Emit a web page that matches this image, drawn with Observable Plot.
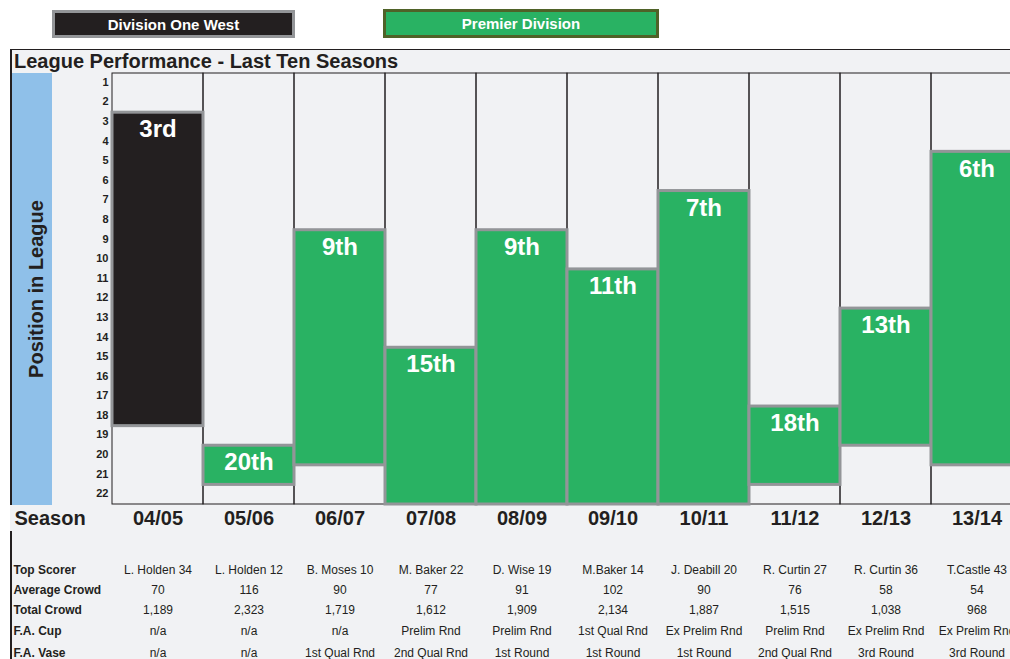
<!DOCTYPE html>
<html>
<head>
<meta charset="utf-8">
<script src="https://cdn.jsdelivr.net/npm/d3@7"></script>
<script src="https://cdn.jsdelivr.net/npm/@observablehq/plot@0.6"></script>
<style>
  html, body { margin: 0; padding: 0; }
  body { width: 1010px; height: 659px; overflow: hidden; position: relative; background: #ffffff;
         font-family: "Liberation Sans", Arial, Helvetica, sans-serif; color: #231f20; }
  .lg { position: absolute; box-sizing: border-box; color: #ffffff; font-weight: bold; font-size: 15px;
        display: flex; align-items: center; justify-content: center; }
  .lg0 { left: 52px; top: 10px; width: 243px; height: 28px; border: 3px solid #939598; }
  .lg1 { left: 383px; top: 9px; width: 276px; height: 29px; border: 3px solid #4f6228; }
  #panel { position: absolute; left: 10px; top: 49px; width: 1000px; height: 610px; background: #f1f2f4;
           border-top: 1.5px solid #231f20; }
  .vline { position: absolute; left: 10px; width: 1.5px; background: #231f20; }
  #title { position: absolute; left: 14px; top: 50px; height: 23px; line-height: 23px; font-weight: bold; font-size: 20px; }
  #blue { position: absolute; left: 12px; top: 73px; width: 40px; height: 432px; background: #8fc0e9; }
  #chart { position: absolute; left: 0; top: 0; }
</style>
</head>
<body>
<div id="panel"></div>
<div class="vline" style="top:49px;height:456px"></div>
<div class="vline" style="top:531px;height:128px"></div>
<div id="legend"></div>
<div id="title">League Performance - Last Ten Seasons</div>
<div id="blue"></div>
<div id="chart"></div>
<script>
// ---- data ----
const seasons = ["04/05", "05/06", "06/07", "07/08", "08/09", "09/10", "10/11", "11/12", "12/13", "13/14"];
const divisions = ["Division One West", "Premier Division", "Premier Division", "Premier Division", "Premier Division",
                   "Premier Division", "Premier Division", "Premier Division", "Premier Division", "Premier Division"];
const finishPositions = [3, 20, 9, 15, 9, 11, 7, 18, 13, 6];   // label shown in the bar
const barTop = [3, 20, 9, 15, 9, 11, 7, 18, 13, 5];            // where each bar starts (as drawn)
const barEnd = [18, 21, 20, 22, 22, 22, 22, 21, 19, 20];       // where each bar ends (as drawn)
const positionTicks = d3.range(1, 23);
const topScorer = ["L. Holden 34", "L. Holden 12", "B. Moses 10", "M. Baker 22", "D. Wise 19",
                   "M.Baker 14", "J. Deabill 20", "R. Curtin 27", "R. Curtin 36", "T.Castle 43"];
const averageCrowd = [70, 116, 90, 77, 91, 102, 90, 76, 58, 54];
const totalCrowd = [1189, 2323, 1719, 1612, 1909, 2134, 1887, 1515, 1038, 968];
const faCup = ["n/a", "n/a", "n/a", "Prelim Rnd", "Prelim Rnd", "1st Qual Rnd", "Ex Prelim Rnd", "Prelim Rnd", "Ex Prelim Rnd", "Ex Prelim Rnd"];
const faVase = ["n/a", "n/a", "1st Qual Rnd", "2nd Qual Rnd", "1st Round", "1st Round", "1st Round", "2nd Qual Rnd", "3rd Round", "3rd Round"];
const divisionNames = ["Division One West", "Premier Division"];
const divisionColors = ["#231f20", "#29b263"];

// ---- helpers ----
function ordinal(n) {
  const s = ["th", "st", "nd", "rd"], v = n % 100;
  return n + (s[(v - 20) % 10] || s[v] || s[0]);
}
const fmt = d3.format(",");
const data = seasons.map((s, i) => ({season: s, division: divisions[i], finish: finishPositions[i], top: barTop[i], end: barEnd[i]}));

// legend (HTML)
const legend = document.getElementById("legend");
divisionNames.forEach((name, i) => {
  const el = document.createElement("div");
  el.className = "lg lg" + i;
  el.style.background = divisionColors[i];
  el.textContent = name;
  legend.appendChild(el);
});

const ink = "#231f20";
const rows = [
  {label: "Top Scorer", values: topScorer, dy: 66},
  {label: "Average Crowd", values: averageCrowd.map(String), dy: 86},
  {label: "Total Crowd", values: totalCrowd.map(fmt), dy: 106},
  {label: "F.A. Cup", values: faCup, dy: 127},
  {label: "F.A. Vase", values: faVase, dy: 149}
];

const marks = [
  // column frames
  Plot.cell(seasons, {x: d => d, fill: "none", stroke: ink, strokeWidth: 1, inset: 0}),
  // bars
  Plot.barY(data, {x: "season", y1: d => d.top - 0.5, y2: d => d.end + 0.5, fill: "division",
                   stroke: "#939598", strokeWidth: 3, inset: 0}),
  // bar labels
  Plot.text(data, {x: "season", y: d => d.top - 0.5, text: d => ordinal(d.finish), dy: 17, lineAnchor: "middle",
                   fill: "#ffffff", fontSize: 24, fontWeight: "bold"}),
  // y axis
  Plot.axisY(positionTicks, {tickSize: 0, tickPadding: 3, fontSize: 11, fontWeight: "bold", fill: ink,
                             dy: -1, label: null}),
  Plot.text(["Position in League"], {text: d => d, frameAnchor: "left", textAnchor: "middle", lineAnchor: "middle",
                                     rotate: -90, dx: -75, fontSize: 20, fontWeight: "bold", fill: ink}),
  // season row
  Plot.text(["Season"], {text: d => d, frameAnchor: "bottom-left", textAnchor: "start", lineAnchor: "middle",
                         dx: -97, dy: 14, fontSize: 20, fontWeight: "bold", fill: ink}),
  Plot.text(seasons, {x: d => d, text: d => d, frameAnchor: "bottom", lineAnchor: "middle", dy: 14,
                      fontSize: 20, fontWeight: "bold", fill: ink})
];
rows.forEach(r => {
  marks.push(Plot.text([r.label], {text: d => d, frameAnchor: "bottom-left", textAnchor: "start", lineAnchor: "middle",
                                    dx: -98, dy: r.dy, fontSize: 12, fontWeight: "bold", fill: ink}));
  marks.push(Plot.text(seasons, {x: d => d, text: (d, i) => r.values[i], frameAnchor: "bottom", lineAnchor: "middle",
                                  dy: r.dy, fontSize: 12, fill: ink}));
});

const chart = Plot.plot({
  width: 1010,
  height: 659,
  marginTop: 73,
  marginBottom: 155,
  marginLeft: 111,
  marginRight: 0,
  style: {background: "transparent", overflow: "hidden", fontFamily: "'Liberation Sans', Arial, Helvetica, sans-serif"},
  x: {type: "band", domain: seasons, range: [111, 1023], padding: 0, axis: null},
  y: {domain: [0.5, 22.5], reverse: true, axis: null},
  color: {domain: divisionNames, range: divisionColors},
  marks
});
document.getElementById("chart").appendChild(chart);
</script>
</body>
</html>
